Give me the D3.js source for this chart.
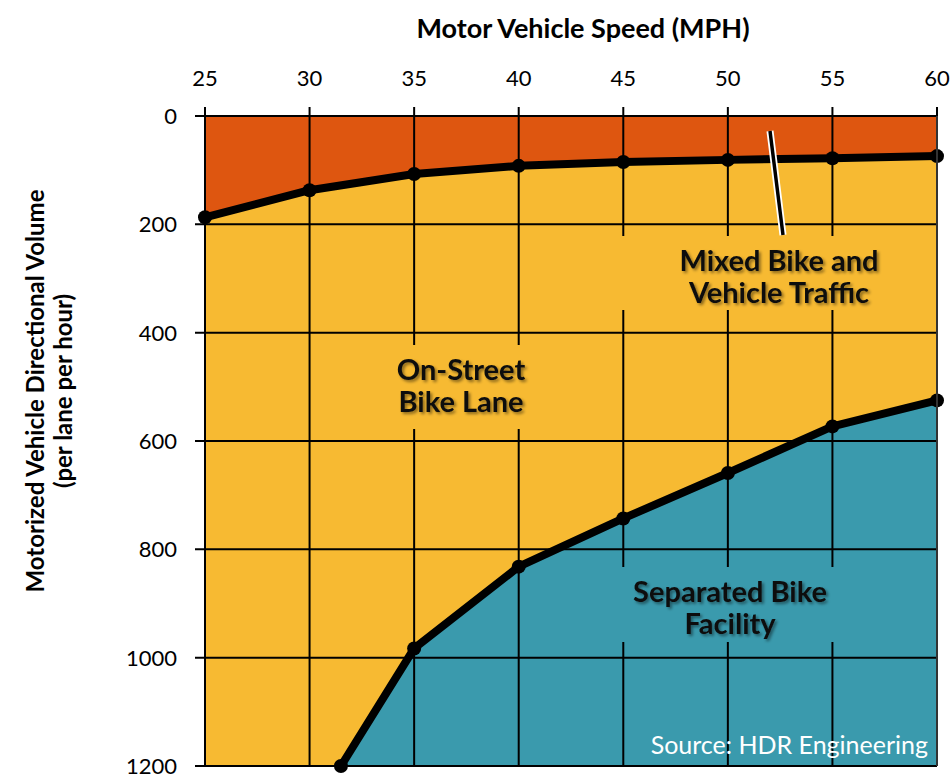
<!DOCTYPE html>
<html>
<head>
<meta charset="utf-8">
<script src="https://cdn.jsdelivr.net/npm/d3@7"></script>
<style>
  body { margin: 0; background: #fff; }
  svg { display: block; font-family: Lato, "Open Sans", sans-serif; }
</style>
</head>
<body>
<div id="chart"></div>
<script>
// speeds on the top axis, volume limits
var speeds = [25, 30, 35, 40, 45, 50, 55, 60];
var mixedLimit = [187, 137, 107, 92, 85, 81, 78, 74];
var separatedSpeeds = [31.5, 35, 40, 45, 50, 55, 60];
var separatedLimit = [1200, 983, 832, 743, 659, 573, 525];
var volumeTicks = [0, 200, 400, 600, 800, 1000, 1200];

var w = 951, h = 779;
var margin = {top: 116, right: 14, bottom: 13, left: 205};

var x = d3.scaleLinear().domain([25, 60]).range([margin.left, w - margin.right]);
var y = d3.scaleLinear().domain([0, 1200]).range([margin.top, h - margin.bottom]);

var svg = d3.select("#chart").append("svg").attr("width", w).attr("height", h);

var defs = svg.append("defs");
var shadow = defs.append("filter").attr("id", "shadow")
  .attr("x", "-10%").attr("y", "-20%").attr("width", "130%").attr("height", "150%");
shadow.append("feDropShadow").attr("dx", 2).attr("dy", 2)
  .attr("stdDeviation", 1.6).attr("flood-color", "#000").attr("flood-opacity", 0.45);

var mixed = speeds.map(function(d, i) { return {s: d, v: mixedLimit[i]}; });
var separated = separatedSpeeds.map(function(d, i) { return {s: d, v: separatedLimit[i]}; });

// background areas
svg.append("rect")
  .attr("x", x(25)).attr("y", y(0))
  .attr("width", x(60) - x(25)).attr("height", y(1200) - y(0))
  .attr("fill", "#F7BA32");

var topArea = d3.area()
  .x(function(d) { return x(d.s); })
  .y0(y(0))
  .y1(function(d) { return y(d.v); });
svg.append("path").datum(mixed).attr("d", topArea).attr("fill", "#DE5610");

var bottomArea = d3.area()
  .x(function(d) { return x(d.s); })
  .y0(y(1200))
  .y1(function(d) { return y(d.v); });
svg.append("path").datum(separated).attr("d", bottomArea).attr("fill", "#3A9AAD");

// grid lines + ticks
var grid = svg.append("g").attr("stroke", "#000").attr("stroke-width", 2);
grid.selectAll(".vgrid").data(speeds).enter().append("line")
  .attr("x1", function(d) { return x(d); }).attr("x2", function(d) { return x(d); })
  .attr("y1", y(0) - 9).attr("y2", y(1200));
grid.selectAll(".hgrid").data(volumeTicks).enter().append("line")
  .attr("x1", x(25) - 10).attr("x2", x(60))
  .attr("y1", function(d) { return y(d); }).attr("y2", function(d) { return y(d); });

// label boxes hide the grid behind the region names
var labels = [
  {lines: ["Mixed Bike and", "Vehicle Traffic"], cx: 779, y: 271, box: [615, 236, 320, 74], fill: "#F7BA32"},
  {lines: ["On-Street", "Bike Lane"], cx: 461, y: 380, box: [380, 345, 165, 84], fill: "#F7BA32"},
  {lines: ["Separated Bike", "Facility"], cx: 730, y: 602, box: [605, 567, 250, 75], fill: "#3A9AAD"}
];
labels.forEach(function(l) {
  svg.append("rect").attr("x", l.box[0]).attr("y", l.box[1])
    .attr("width", l.box[2]).attr("height", l.box[3]).attr("fill", l.fill);
});

// boundary lines
var line = d3.line().x(function(d) { return x(d.s); }).y(function(d) { return y(d.v); });
[mixed, separated].forEach(function(data) {
  svg.append("path").datum(data).attr("d", line)
    .attr("fill", "none").attr("stroke", "#000").attr("stroke-width", 8)
    .attr("stroke-linejoin", "round");
  svg.selectAll(null).data(data).enter().append("circle")
    .attr("cx", function(d) { return x(d.s); })
    .attr("cy", function(d) { return y(d.v); })
    .attr("r", 7).attr("fill", "#000");
});

// frame on the right edge
svg.append("line").attr("x1", x(60)).attr("x2", x(60))
  .attr("y1", y(0)).attr("y2", y(1200)).attr("stroke", "#333").attr("stroke-width", 2);

// pointer from the mixed label up into the orange band
svg.append("line").attr("x1", 770).attr("y1", 131).attr("x2", 783).attr("y2", 235)
  .attr("stroke", "#fff").attr("stroke-width", 7);
svg.append("line").attr("x1", 770).attr("y1", 131).attr("x2", 783).attr("y2", 235)
  .attr("stroke", "#000").attr("stroke-width", 3.5);

labels.forEach(function(l) {
  l.lines.forEach(function(s, i) {
    svg.append("text").attr("text-anchor", "middle")
      .attr("font-size", "29px").attr("font-weight", "bold").attr("fill", "#111")
      .attr("filter", "url(#shadow)")
      .attr("x", l.cx).attr("y", l.y + i * 32).text(s);
  });
});

// axis tick labels
svg.selectAll(".xlab").data(speeds).enter().append("text")
  .attr("x", function(d) { return x(d); }).attr("y", 86)
  .attr("text-anchor", "middle").attr("font-size", "22px").attr("fill", "#000")
  .text(function(d) { return d; });
svg.selectAll(".ylab").data(volumeTicks).enter().append("text")
  .attr("x", 177).attr("y", function(d) { return y(d) + 8; })
  .attr("text-anchor", "end").attr("font-size", "22px").attr("fill", "#000")
  .text(function(d) { return d; });

// titles
svg.append("text").attr("x", 583).attr("y", 38).attr("text-anchor", "middle")
  .attr("font-size", "27px").attr("font-weight", "bold").text("Motor Vehicle Speed (MPH)");

var yTitle = svg.append("text").attr("transform", "translate(0,391) rotate(-90)")
  .attr("text-anchor", "middle").attr("font-size", "24px").attr("font-weight", "bold");
yTitle.append("tspan").attr("x", 0).attr("y", 44).text("Motorized Vehicle Directional Volume");
yTitle.append("tspan").attr("x", 0).attr("y", 72).text("(per lane per hour)");

svg.append("text").attr("x", 928).attr("y", 754).attr("text-anchor", "end")
  .attr("font-size", "25px").attr("fill", "#fff").text("Source: HDR Engineering");
</script>
</body>
</html>
